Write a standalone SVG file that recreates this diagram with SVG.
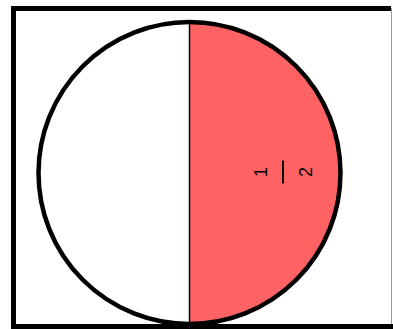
<svg xmlns="http://www.w3.org/2000/svg" width="393" height="329" viewBox="0 0 393 329">
  <style>
    .frac { font-family: "Liberation Sans", Arial, sans-serif; font-size: 18px; fill: #000; text-anchor: middle; }
  </style>
  <rect x="0" y="0" width="393" height="329" fill="#ffffff"/>
  <g id="frame">
    <path d="M13.5,329 L13.5,8.5 L391,8.5" fill="none" stroke="#000" stroke-width="5"/>
    <line x1="11" y1="326.5" x2="393" y2="326.5" stroke="#000" stroke-width="5"/>
    <line x1="391.5" y1="8" x2="391.5" y2="324" stroke="#999" stroke-width="1"/>
  </g>
  <g id="circle">
    <circle cx="189.5" cy="173" r="151" fill="#ffffff"/>
    <path d="M189.5,22 A151,151 0 0 1 189.5,324 Z" fill="#ff6262"/>
    <line x1="189.5" y1="22" x2="189.5" y2="324" stroke="#000" stroke-width="1.5"/>
    <circle cx="189.5" cy="173" r="151" fill="none" stroke="#000" stroke-width="4.5"/>
  </g>
  <g id="label" transform="translate(283,172) rotate(-90)">
    <text class="frac" x="0" y="-16">1</text>
    <line x1="-11.5" y1="0" x2="11.5" y2="0" stroke="#000" stroke-width="2"/>
    <text class="frac" x="0" y="29">2</text>
  </g>
</svg>
